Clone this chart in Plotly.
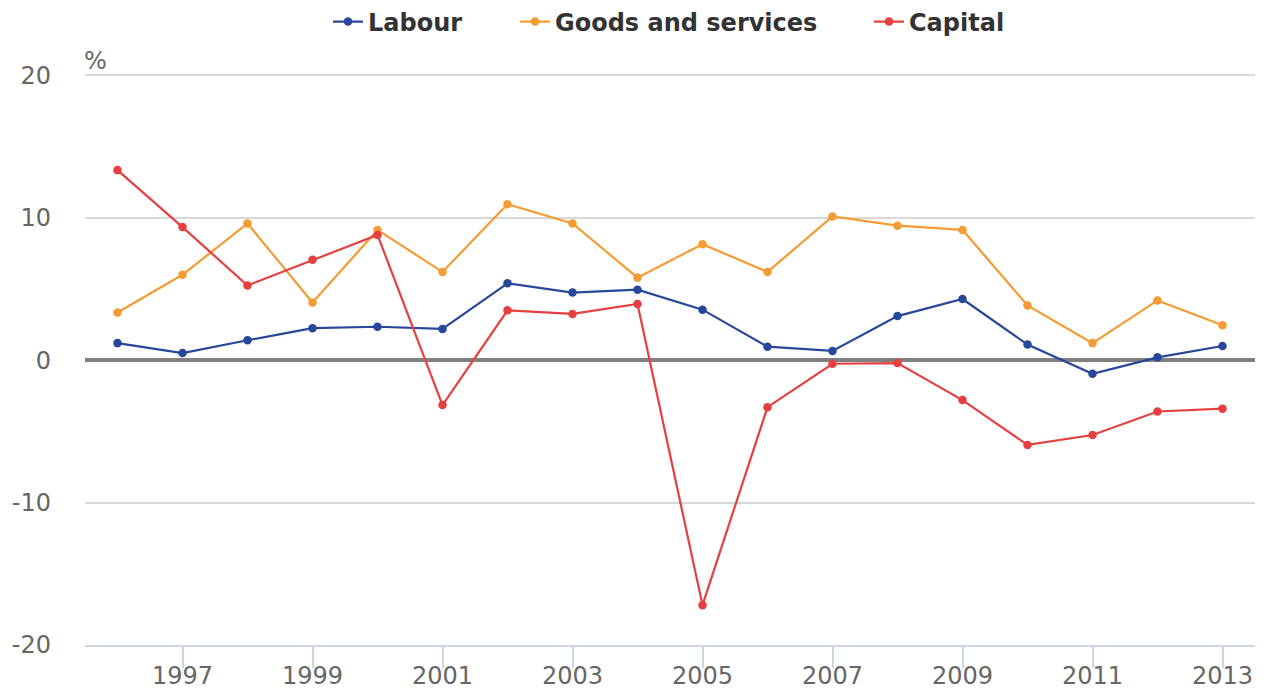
import plotly.graph_objects as go

years = list(range(1996, 2014))
labour = [1.2, 0.5, 1.4, 2.25, 2.35, 2.2, 5.4, 4.75, 4.95, 3.55, 0.95, 0.65, 3.1, 4.3, 1.1, -0.95, 0.2, 1.0]
goods = [3.35, 6.0, 9.6, 4.05, 9.15, 6.2, 10.95, 9.6, 5.8, 8.15, 6.2, 10.1, 9.45, 9.15, 3.85, 1.2, 4.2, 2.45]
capital = [13.35, 9.35, 5.25, 7.05, 8.8, -3.15, 3.5, 3.25, 3.95, -17.2, -3.3, -0.25, -0.2, -2.8, -5.95, -5.25, -3.6, -3.4]

y_ticks = [-20, -10, 0, 10, 20]
y_tick_labels = ["-20", "-10", "0", "10", "20"]

series = [("Labour", labour, "#27479a", "legend", 328),
          ("Goods and services", goods, "#f59b33", "legend2", 515),
          ("Capital", capital, "#e5403f", "legend3", 869)]

legend_font = dict(family="DejaVu Sans", size=24, color="#333333", weight="bold")

fig = go.Figure()
layout_legends = {}
for name, vals, col, lg, lx in series:
    fig.add_trace(go.Scatter(x=years, y=vals, name=name, mode="lines+markers", legend=lg,
                             showlegend=True,
                             line=dict(color=col, width=2.2), marker=dict(color=col, size=8.5)))
    layout_legends[lg] = dict(orientation="h", x=lx / 1264, xref="container", xanchor="left",
                              y=1 - 22 / 691, yref="container", yanchor="middle",
                              font=legend_font, itemwidth=30, bgcolor="rgba(0,0,0,0)")

fig.update_layout(
    width=1264, height=691, showlegend=True,
    margin=dict(l=85, r=9, t=74, b=46, autoexpand=False),
    plot_bgcolor="white", paper_bgcolor="white",
    font=dict(family="DejaVu Sans", color="#666666", size=24),
    xaxis=dict(range=[1995.5, 2013.5], tick0=1997, dtick=2, showgrid=False, automargin=False,
               showline=True, linecolor="#ccd6e3", linewidth=2,
               ticks="outside", ticklen=21, tickwidth=2, tickcolor="#ccd6e3",
               tickfont=dict(size=24, color="#666666"), zeroline=False, ticklabelstandoff=-13),
    yaxis=dict(range=[-20, 20.1], tickvals=y_ticks, ticktext=y_tick_labels, automargin=False,
               showgrid=True, gridcolor="#d9d9d9", gridwidth=1.5,
               zeroline=True, zerolinecolor="#808080", zerolinewidth=4,
               tickfont=dict(size=24, color="#666666"), ticklabelstandoff=33),
    annotations=[dict(text="%", x=0, xref="paper", xanchor="left", y=20, yref="y",
                      yanchor="bottom", yshift=-2, xshift=-3, showarrow=False,
                      font=dict(size=24, color="#666666"))],
    **layout_legends,
)
fig.write_html("out.html", config={"displayModeBar": False},
               post_script="document.body.style.margin='0';document.body.style.overflow='hidden';")
